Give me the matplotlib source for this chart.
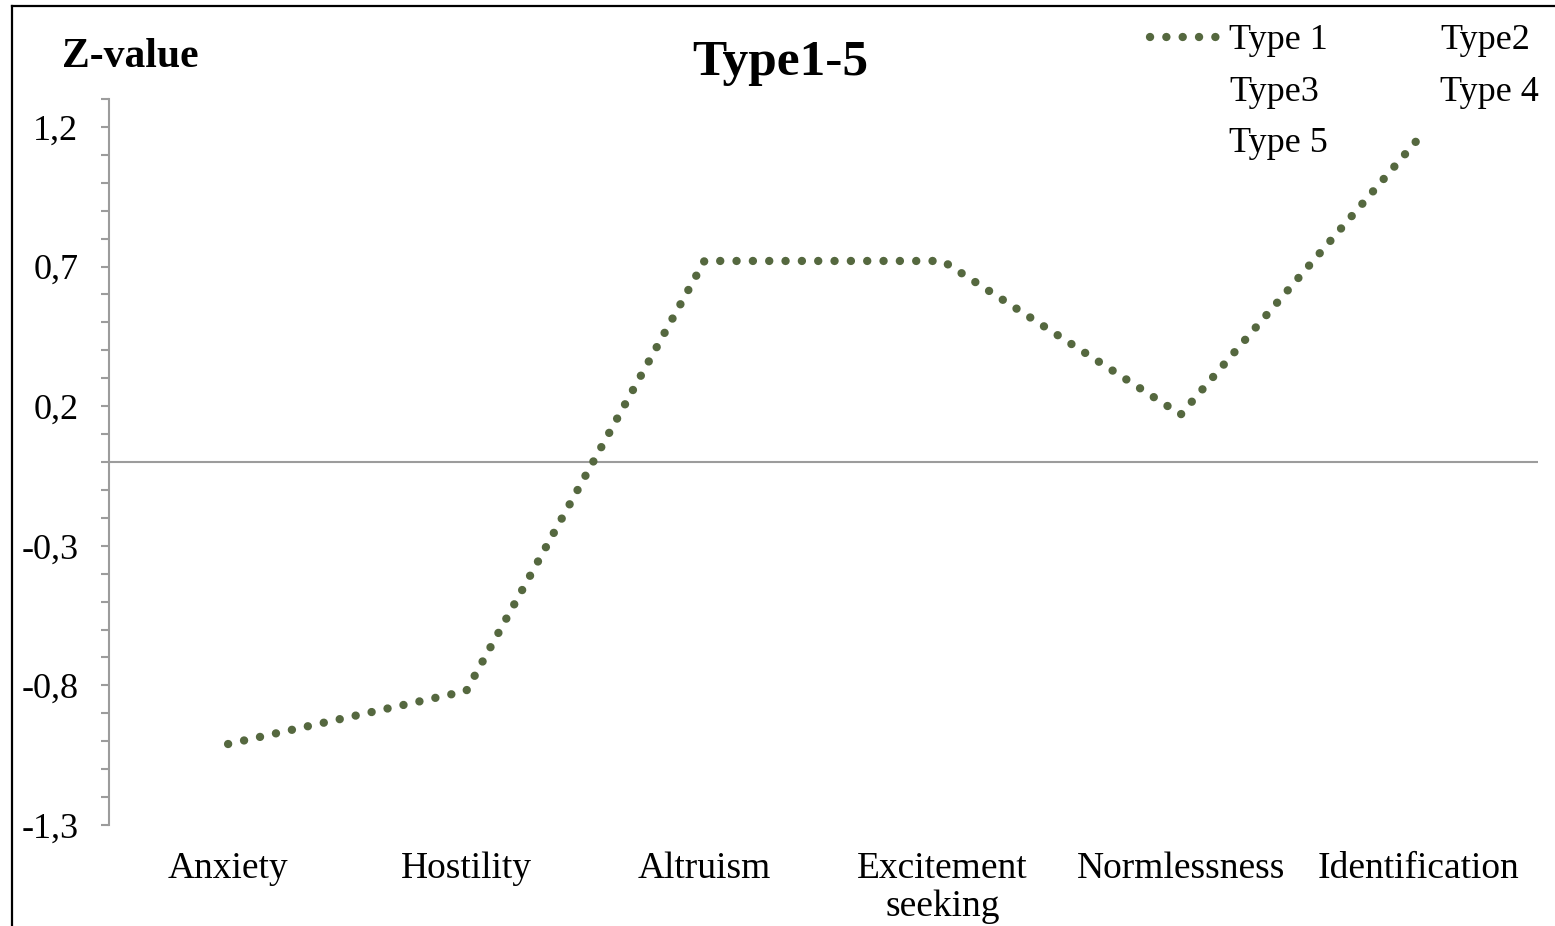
import numpy as np
import matplotlib
matplotlib.use("Agg")
import matplotlib.pyplot as plt
from matplotlib.lines import Line2D
from matplotlib.ticker import FixedLocator, FuncFormatter

plt.rcParams["font.family"] = ["Liberation Serif", "DejaVu Serif"]

# Profile data (z-scores per scale)
categories = ["Anxiety", "Hostility", "Altruism", "Excitement\nseeking",
              "Normlessness", "Identification"]
series_names = ["Type 1", "Type2", "Type3", "Type 4", "Type 5"]
type1_values = [-1.01, -0.82, 0.72, 0.72, 0.17, 1.16]

major_ticks = [-1.3, -0.8, -0.3, 0.2, 0.7, 1.2]
minor_ticks = [round(v / 10, 1) for v in range(-13, 14)]

W, H = 1555, 926
fig = plt.figure(figsize=(W / 100, H / 100), dpi=100)
ax = fig.add_axes([109 / W, (H - 825) / H, 1429 / W, 726 / H])

green = "#55683F"
gray = "#9C9C9C"

x = np.arange(len(categories))
line1, = ax.plot(x, type1_values, color=green, linewidth=6.0,
                 linestyle=(0, (0.01, 1.95)), dash_capstyle="round",
                 solid_capstyle="round", label=series_names[0])

ax.set_xlim(-0.5, len(categories) - 0.5)
ax.set_ylim(-1.3, 1.3)

# zero line acting as the category axis
ax.axhline(0, color=gray, linewidth=1.5, zorder=1)

for s in ("top", "right", "bottom"):
    ax.spines[s].set_visible(False)
ax.spines["left"].set_color(gray)
ax.spines["left"].set_linewidth(1.5)

ax.yaxis.set_major_locator(FixedLocator(major_ticks))
ax.yaxis.set_minor_locator(FixedLocator([t for t in minor_ticks if t not in major_ticks]))
ax.yaxis.set_major_formatter(FuncFormatter(lambda v, p: f"{v:.1f}".replace(".", ",")))
ax.tick_params(axis="y", which="both", length=6, width=1.5, color=gray,
               direction="out", labelsize=26, pad=16)

ax.set_xticks(x)
ax.set_xticklabels(categories, fontsize=27, linespacing=1.12)
ax.tick_params(axis="x", length=0, pad=19)

fig.text(62 / W, 1 - 67 / H, "Z-value", fontsize=30, fontweight="bold",
         ha="left", va="baseline")
fig.text(780 / W, 1 - 75 / H, "Type1-5", fontsize=37, fontweight="bold",
         ha="center", va="baseline")

# legend: only Type 1 has a drawn series, the others are listed without marks
blank = [Line2D([], [], linestyle="none") for _ in range(4)]
handles = [line1, blank[1], blank[3], blank[0], blank[2]]
labels = [series_names[0], series_names[2], series_names[4],
          series_names[1], series_names[3]]
leg = fig.legend(handles, labels, ncol=2, loc="upper left",
                 bbox_to_anchor=(1150 / W, 1 - 24 / H),
                 bbox_transform=fig.transFigure, frameon=False,
                 fontsize=26, handlelength=2.0, handletextpad=0.2,
                 columnspacing=0.9, labelspacing=0.5, borderpad=0,
                 borderaxespad=0)

# outer chart border (left and top edges)
fig.add_artist(Line2D([11.5 / W, 11.5 / W], [0, 1 - 5.5 / H], color="black",
                      linewidth=1.6, transform=fig.transFigure))
fig.add_artist(Line2D([11.5 / W, 1], [1 - 5.5 / H, 1 - 5.5 / H], color="black",
                      linewidth=1.6, transform=fig.transFigure))

fig.savefig("out.png", dpi=100)
